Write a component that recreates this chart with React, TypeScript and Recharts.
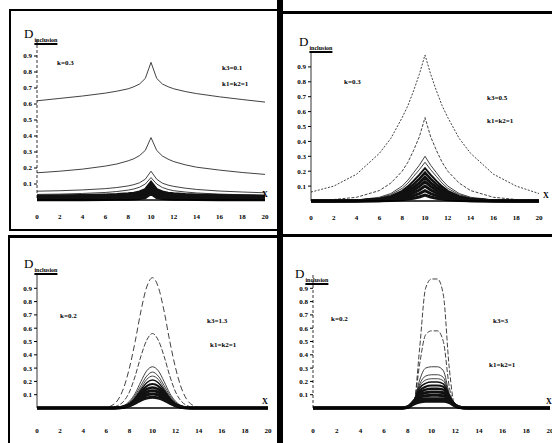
import React from 'react';
import { LineChart, Line, XAxis, YAxis } from 'recharts';

// x positions where the curves were read
const xTop = [0, 2, 4, 6, 7, 8, 8.5, 9, 9.5, 10, 10.5, 11, 11.5, 12, 13, 14, 16, 18, 20];
const xBottom = [0, 5, 6, 6.5, 7, 7.5, 8, 8.5, 9, 9.5, 10, 10.5, 11, 11.5, 12, 12.5, 13, 13.5, 14, 15, 20];
const xTicks = [0, 2, 4, 6, 8, 10, 12, 14, 16, 18, 20];
const yTicks = [0.1, 0.2, 0.3, 0.4, 0.5, 0.6, 0.7, 0.8, 0.9];

// panel 1: k3=0.1
const p1a = [0.62, 0.635, 0.65, 0.668, 0.68, 0.695, 0.708, 0.725, 0.76, 0.86, 0.76, 0.725, 0.708, 0.695, 0.678, 0.665, 0.645, 0.628, 0.612];
const p1b = [0.17, 0.18, 0.193, 0.212, 0.225, 0.245, 0.258, 0.278, 0.31, 0.39, 0.31, 0.275, 0.255, 0.24, 0.22, 0.205, 0.187, 0.172, 0.16];
const p1c = [0.055, 0.058, 0.063, 0.071, 0.078, 0.088, 0.096, 0.108, 0.13, 0.18, 0.13, 0.105, 0.093, 0.085, 0.074, 0.066, 0.056, 0.05, 0.045];
const p1d = [0.035, 0.037, 0.041, 0.047, 0.053, 0.062, 0.069, 0.08, 0.1, 0.14, 0.1, 0.078, 0.066, 0.058, 0.05, 0.044, 0.037, 0.033, 0.03];
const p1e = [0.025, 0.026, 0.028, 0.031, 0.034, 0.039, 0.043, 0.05, 0.065, 0.11, 0.065, 0.05, 0.043, 0.039, 0.034, 0.031, 0.028, 0.026, 0.024];
const p1f = [0.018, 0.019, 0.02, 0.022, 0.025, 0.029, 0.032, 0.038, 0.05, 0.09, 0.05, 0.038, 0.032, 0.029, 0.025, 0.022, 0.02, 0.019, 0.017];
const p1g = [0.012, 0.012, 0.013, 0.015, 0.017, 0.02, 0.023, 0.028, 0.038, 0.072, 0.038, 0.028, 0.023, 0.02, 0.017, 0.015, 0.013, 0.012, 0.011];
const p1h = [0.006, 0.006, 0.007, 0.008, 0.01, 0.012, 0.014, 0.018, 0.026, 0.055, 0.026, 0.018, 0.014, 0.012, 0.01, 0.008, 0.007, 0.006, 0.006];
const p1i = [0.002, 0.002, 0.002, 0.003, 0.004, 0.005, 0.006, 0.009, 0.015, 0.04, 0.015, 0.009, 0.006, 0.005, 0.004, 0.003, 0.002, 0.002, 0.002];

// panel 2: k3=0.5
const p2a = [0.06, 0.1, 0.18, 0.32, 0.42, 0.56, 0.64, 0.74, 0.85, 0.98, 0.85, 0.74, 0.64, 0.56, 0.42, 0.32, 0.18, 0.1, 0.05];
const p2b = [0.003, 0.01, 0.025, 0.07, 0.12, 0.2, 0.26, 0.34, 0.43, 0.56, 0.43, 0.34, 0.26, 0.2, 0.12, 0.07, 0.025, 0.01, 0.004];
const p2c = [0, 0.002, 0.007, 0.025, 0.05, 0.1, 0.14, 0.19, 0.24, 0.3, 0.24, 0.19, 0.14, 0.1, 0.05, 0.025, 0.007, 0.002, 0];
const p2d = [0, 0.001, 0.005, 0.02, 0.042, 0.085, 0.12, 0.165, 0.21, 0.26, 0.21, 0.165, 0.12, 0.085, 0.042, 0.02, 0.005, 0.001, 0];
const p2e = [0, 0.001, 0.004, 0.015, 0.032, 0.068, 0.098, 0.135, 0.175, 0.22, 0.175, 0.135, 0.098, 0.068, 0.032, 0.015, 0.004, 0.001, 0];
const p2f = [0, 0, 0.003, 0.012, 0.026, 0.056, 0.082, 0.113, 0.148, 0.19, 0.148, 0.113, 0.082, 0.056, 0.026, 0.012, 0.003, 0, 0];
const p2g = [0, 0, 0.002, 0.009, 0.02, 0.045, 0.066, 0.092, 0.122, 0.16, 0.122, 0.092, 0.066, 0.045, 0.02, 0.009, 0.002, 0, 0];
const p2h = [0, 0, 0.001, 0.006, 0.015, 0.035, 0.052, 0.073, 0.098, 0.13, 0.098, 0.073, 0.052, 0.035, 0.015, 0.006, 0.001, 0, 0];
const p2i = [0, 0, 0.001, 0.004, 0.01, 0.025, 0.038, 0.054, 0.074, 0.1, 0.074, 0.054, 0.038, 0.025, 0.01, 0.004, 0.001, 0, 0];
const p2j = [0, 0, 0, 0.002, 0.006, 0.016, 0.025, 0.036, 0.05, 0.07, 0.05, 0.036, 0.025, 0.016, 0.006, 0.002, 0, 0, 0];
const p2k = [0, 0, 0, 0.001, 0.003, 0.008, 0.013, 0.019, 0.027, 0.04, 0.027, 0.019, 0.013, 0.008, 0.003, 0.001, 0, 0, 0];

// panel 3: k3=1.3
const p3a = [0, 0, 0.005, 0.02, 0.06, 0.15, 0.3, 0.5, 0.73, 0.91, 0.98, 0.91, 0.73, 0.5, 0.3, 0.15, 0.06, 0.02, 0.005, 0, 0];
const p3b = [0, 0, 0, 0.005, 0.018, 0.05, 0.12, 0.24, 0.39, 0.51, 0.56, 0.51, 0.39, 0.24, 0.12, 0.05, 0.018, 0.005, 0, 0, 0];
const p3c = [0, 0, 0, 0.001, 0.005, 0.018, 0.05, 0.11, 0.2, 0.28, 0.31, 0.28, 0.2, 0.11, 0.05, 0.018, 0.005, 0.001, 0, 0, 0];
const p3d = [0, 0, 0, 0, 0.004, 0.015, 0.042, 0.095, 0.17, 0.24, 0.27, 0.24, 0.17, 0.095, 0.042, 0.015, 0.004, 0, 0, 0, 0];
const p3e = [0, 0, 0, 0, 0.003, 0.012, 0.036, 0.083, 0.15, 0.215, 0.24, 0.215, 0.15, 0.083, 0.036, 0.012, 0.003, 0, 0, 0, 0];
const p3f = [0, 0, 0, 0, 0.003, 0.011, 0.032, 0.074, 0.135, 0.19, 0.21, 0.19, 0.135, 0.074, 0.032, 0.011, 0.003, 0, 0, 0, 0];
const p3g = [0, 0, 0, 0, 0.002, 0.009, 0.028, 0.066, 0.12, 0.165, 0.18, 0.165, 0.12, 0.066, 0.028, 0.009, 0.002, 0, 0, 0, 0];
const p3h = [0, 0, 0, 0, 0.002, 0.008, 0.025, 0.058, 0.104, 0.142, 0.155, 0.142, 0.104, 0.058, 0.025, 0.008, 0.002, 0, 0, 0, 0];
const p3i = [0, 0, 0, 0, 0.002, 0.007, 0.022, 0.05, 0.09, 0.12, 0.13, 0.12, 0.09, 0.05, 0.022, 0.007, 0.002, 0, 0, 0, 0];
const p3j = [0, 0, 0, 0, 0.001, 0.006, 0.02, 0.044, 0.076, 0.098, 0.105, 0.098, 0.076, 0.044, 0.02, 0.006, 0.001, 0, 0, 0, 0];
const p3k = [0, 0, 0, 0, 0.001, 0.005, 0.016, 0.036, 0.06, 0.075, 0.08, 0.075, 0.06, 0.036, 0.016, 0.005, 0.001, 0, 0, 0, 0];

// panel 4: k3=3
const p4a = [0, 0, 0, 0, 0, 0, 0, 0.03, 0.45, 0.9, 0.97, 0.97, 0.85, 0.3, 0.01, 0, 0, 0, 0, 0, 0];
const p4b = [0, 0, 0, 0, 0, 0, 0, 0.03, 0.33, 0.55, 0.58, 0.58, 0.5, 0.16, 0.008, 0, 0, 0, 0, 0, 0];
const p4c = [0, 0, 0, 0, 0, 0, 0.002, 0.04, 0.21, 0.3, 0.31, 0.31, 0.28, 0.11, 0.01, 0, 0, 0, 0, 0, 0];
const p4d = [0, 0, 0, 0, 0, 0, 0.003, 0.045, 0.18, 0.24, 0.25, 0.25, 0.23, 0.1, 0.012, 0, 0, 0, 0, 0, 0];
const p4e = [0, 0, 0, 0, 0, 0, 0.004, 0.05, 0.165, 0.21, 0.22, 0.22, 0.205, 0.095, 0.014, 0, 0, 0, 0, 0, 0];
const p4f = [0, 0, 0, 0, 0, 0, 0.005, 0.05, 0.15, 0.185, 0.195, 0.195, 0.182, 0.09, 0.016, 0, 0, 0, 0, 0, 0];
const p4g = [0, 0, 0, 0, 0, 0, 0.006, 0.05, 0.13, 0.16, 0.17, 0.17, 0.16, 0.085, 0.018, 0, 0, 0, 0, 0, 0];
const p4h = [0, 0, 0, 0, 0, 0, 0.007, 0.05, 0.115, 0.138, 0.145, 0.145, 0.138, 0.08, 0.02, 0.002, 0, 0, 0, 0, 0];
const p4i = [0, 0, 0, 0, 0, 0, 0.008, 0.05, 0.1, 0.115, 0.12, 0.12, 0.115, 0.075, 0.022, 0.003, 0, 0, 0, 0, 0];
const p4j = [0, 0, 0, 0, 0, 0, 0.008, 0.045, 0.08, 0.092, 0.095, 0.095, 0.092, 0.065, 0.022, 0.003, 0, 0, 0, 0, 0];
const p4k = [0, 0, 0, 0, 0, 0, 0.008, 0.04, 0.062, 0.069, 0.07, 0.07, 0.069, 0.055, 0.02, 0.003, 0, 0, 0, 0, 0];
const p4l = [0, 0, 0, 0, 0, 0, 0.006, 0.03, 0.045, 0.05, 0.05, 0.05, 0.05, 0.04, 0.015, 0.002, 0, 0, 0, 0, 0];

type Curve = { values: number[]; w: number; dash?: string };

const serif = '"Liberation Serif", "DejaVu Serif", serif';
const tickStyle = { fontSize: 7, fontFamily: serif, fontWeight: 700, fill: '#000' };

const thin = (values: number[], dash?: string): Curve => ({ values, w: 0.8, dash });
const thick = (values: number[], w = 2): Curve => ({ values, w });

interface PanelProps {
  left: number;
  top: number;
  width: number;
  height: number;
  margin: { top: number; right: number; bottom: number; left: number };
  xs: number[];
  curves: Curve[];
  curveType: 'linear' | 'monotone';
  xAxisHeight: number;
  tickMargin: number;
  yDash?: string;
}

const Panel = ({ left, top, width, height, margin, xs, curves, curveType, xAxisHeight, tickMargin, yDash }: PanelProps) => {
  const data = xs.map((x, i) => {
    const row: Record<string, number> = { x };
    curves.forEach((c, j) => {
      row['c' + j] = c.values[i];
    });
    return row;
  });
  return (
    <div style={{ position: 'absolute', left, top }}>
      <LineChart width={width} height={height} data={data} margin={margin}>
        <XAxis
          dataKey="x"
          type="number"
          domain={[0, 20]}
          ticks={xTicks}
          interval={0}
          tickLine={false}
          axisLine={{ stroke: '#000', strokeWidth: 1.5 }}
          tick={tickStyle}
          tickMargin={tickMargin}
          height={xAxisHeight}
        />
        <YAxis
          type="number"
          domain={[0, 1]}
          ticks={yTicks}
          interval={0}
          width={30}
          tickSize={3}
          tickMargin={2}
          tickLine={{ stroke: '#000' }}
          axisLine={{ stroke: '#000', strokeWidth: 0.8, strokeDasharray: yDash }}
          tick={tickStyle}
          tickFormatter={(v: number) => v.toFixed(1)}
        />
        {curves.map((c, j) => (
          <Line
            key={j}
            dataKey={'c' + j}
            type={curveType}
            stroke="#111"
            strokeWidth={c.w}
            strokeDasharray={c.dash}
            dot={false}
            isAnimationActive={false}
          />
        ))}
      </LineChart>
    </div>
  );
};

const Txt = ({ x, y, children, size = 7 }: { x: number; y: number; children: React.ReactNode; size?: number }) => (
  <div
    style={{
      position: 'absolute',
      left: x,
      top: y,
      transform: 'translateY(-50%)',
      fontFamily: serif,
      fontWeight: 700,
      fontSize: size,
      lineHeight: 1,
      whiteSpace: 'nowrap',
      color: '#000',
    }}
  >
    {children}
  </div>
);

const DLabel = ({ x, y }: { x: number; y: number }) => (
  <div style={{ position: 'absolute', left: x, top: y, fontFamily: serif, fontSize: 13, lineHeight: 1, whiteSpace: 'nowrap' }}>
    D
    <span style={{ fontSize: 6, fontWeight: 700, textDecoration: 'underline', textDecorationThickness: 2, position: 'relative', top: 4, marginLeft: 1 }}>
      inclusion
    </span>
  </div>
);

const box = (left: number, top: number, width: number, height: number) => (
  <div style={{ position: 'absolute', left, top, width, height, background: '#000' }} />
);

export default function App() {
  return (
    <div style={{ position: 'absolute', left: 0, top: 0, width: 552, height: 443, background: '#fff', overflow: 'hidden' }}>
      <Panel
        left={0}
        top={0}
        width={276}
        height={230}
        margin={{ top: 40, right: 11, bottom: 8, left: 7 }}
        xs={xTop}
        curveType="linear"
        xAxisHeight={22}
        tickMargin={8}
        yDash="3 2"
        curves={[thin(p1a), thin(p1b), thin(p1c), thin(p1d), thick(p1e, 3), thick(p1f, 3), thick(p1g, 3), thick(p1h, 3), thick(p1i, 3)]}
      />
      <Panel
        left={276}
        top={0}
        width={276}
        height={230}
        margin={{ top: 52, right: 13, bottom: 7, left: 5 }}
        xs={xTop}
        curveType="linear"
        xAxisHeight={22}
        tickMargin={8}
        curves={[
          thin(p2a, '2 1.5'),
          thin(p2b, '3 1.5'),
          thin(p2c),
          thin(p2d),
          thick(p2e, 2),
          thick(p2f, 2.5),
          thick(p2g, 3),
          thick(p2h, 3),
          thick(p2i, 3),
          thick(p2j, 3),
          thick(p2k, 3),
        ]}
      />
      <Panel
        left={0}
        top={222}
        width={276}
        height={221}
        margin={{ top: 53, right: 8, bottom: 5, left: 7 }}
        xs={xBottom}
        curveType="monotone"
        xAxisHeight={30}
        tickMargin={14}
        curves={[
          thin(p3a, '6 3'),
          thin(p3b, '5 2'),
          thin(p3c),
          thin(p3d),
          thin(p3e),
          thick(p3f, 1.5),
          thick(p3g, 2),
          thick(p3h, 2.5),
          thick(p3i, 3),
          thick(p3j, 3),
          thick(p3k, 3),
        ]}
      />
      <Panel
        left={276}
        top={222}
        width={276}
        height={221}
        margin={{ top: 53, right: 2, bottom: 5, left: 7 }}
        xs={xBottom}
        curveType="monotone"
        xAxisHeight={30}
        tickMargin={14}
        yDash="3 2"
        curves={[
          thin(p4a, '5 2'),
          thin(p4b, '5 2'),
          thin(p4c),
          thin(p4d),
          thin(p4e),
          thick(p4f, 1.5),
          thick(p4g, 2),
          thick(p4h, 2.5),
          thick(p4i, 3),
          thick(p4j, 3),
          thick(p4k, 3),
          thick(p4l, 3),
        ]}
      />

      {/* frames */}
      {box(9, 9, 268, 2)}
      {box(9, 9, 1.5, 221)}
      {box(9, 229, 268, 1.5)}
      {box(277, 0, 6, 443)}
      {box(283, 11, 269, 2.5)}
      {box(8, 235, 269, 2.5)}
      {box(8, 235, 1.5, 208)}
      {box(283, 234, 269, 2.5)}

      {/* panel 1 texts */}
      <DLabel x={24} y={27} />
      <Txt x={57} y={63}>k=0.3</Txt>
      <Txt x={222} y={68}>k3=0.1</Txt>
      <Txt x={222} y={84}>k1=k2=1</Txt>
      <Txt x={262} y={195} size={8}>X</Txt>

      {/* panel 2 texts */}
      <DLabel x={299} y={35} />
      <Txt x={344} y={82}>k=0.3</Txt>
      <Txt x={487} y={98}>k3=0.5</Txt>
      <Txt x={487} y={121}>k1=k2=1</Txt>
      <Txt x={543} y={196} size={8}>X</Txt>

      {/* panel 3 texts */}
      <DLabel x={24} y={257} />
      <Txt x={60} y={316}>k=0.2</Txt>
      <Txt x={207} y={321}>k3=1.3</Txt>
      <Txt x={210} y={345}>k1=k2=1</Txt>
      <Txt x={262} y={402} size={8}>X</Txt>

      {/* panel 4 texts */}
      <DLabel x={295} y={267} />
      <Txt x={331} y={319}>k=0.2</Txt>
      <Txt x={493} y={321}>k3=3</Txt>
      <Txt x={489} y={365}>k1=k2=1</Txt>
      <Txt x={546} y={402} size={8}>X</Txt>
    </div>
  );
}
